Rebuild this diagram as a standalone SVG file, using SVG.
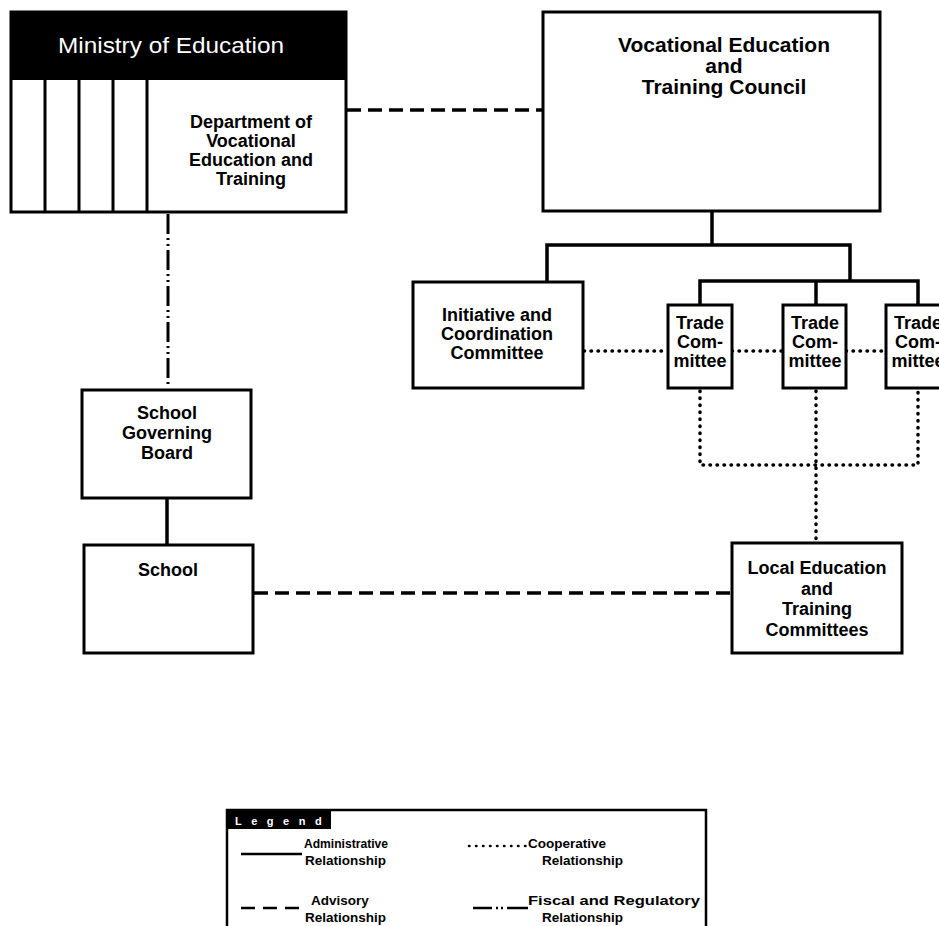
<svg xmlns="http://www.w3.org/2000/svg" width="939" height="926" viewBox="0 0 939 926">
  <style>
    .box { fill: #fff; stroke: #000; stroke-width: 3; }
    .t { font-family: "Liberation Sans", Arial, sans-serif; font-weight: bold; font-size: 18px; fill: #000; text-anchor: middle; }
    .big { font-size: 21px; }
    .lg { font-family: "Liberation Sans", Arial, sans-serif; font-weight: bold; font-size: 13.5px; fill: #000; }
    .admin { fill: none; stroke: #000; stroke-width: 3.5; stroke-linecap: square; }
    .adv { fill: none; stroke: #000; stroke-width: 3.5; stroke-dasharray: 14 7; }
    .coop { fill: none; stroke: #000; stroke-width: 3.5; stroke-dasharray: 0.5 6.5; stroke-linecap: round; }
    .fisc { fill: none; stroke: #000; stroke-width: 3; stroke-dasharray: 20 4 2 4 2 4; }
  </style>
  <rect width="939" height="926" fill="#fff"/>

  <!-- connectors -->
  <g id="connectors">
    <!-- administrative -->
    <path class="admin" d="M712 211 V245 M547 245 H850 M547 245 V282 M850 245 V281 M700 281 H918 M700 281 V305 M816 281 V305 M918 281 V305"/>
    <path class="admin" d="M167 498 V545"/>
    <!-- advisory -->
    <path class="adv" d="M347 110 H543"/>
    <path class="adv" d="M254 593 H732"/>
    <!-- cooperative -->
    <path class="coop" d="M584 351 H668 M732 351 H783 M846 351 H886"/>
    <path class="coop" d="M700 391 V465 H918 V391 M816 391 V541"/>
    <!-- fiscal and regulatory -->
    <path class="fisc" d="M168 214 V388"/>
  </g>

  <!-- Ministry of Education with its departments -->
  <g id="ministry">
    <rect class="box" x="11" y="12" width="335" height="200"/>
    <rect x="11" y="12" width="335" height="68" fill="#000"/>
    <path d="M45 80 V212 M79 80 V212 M113 80 V212 M147 80 V212" stroke="#000" stroke-width="3"/>
    <text x="171" y="53" font-family="Liberation Sans, Arial, sans-serif" font-size="22" fill="#fff" text-anchor="middle" textLength="226" lengthAdjust="spacingAndGlyphs">Ministry of Education</text>
  </g>
  <g id="department">
    <text class="t" x="251" y="128">Department of</text>
    <text class="t" x="251" y="147">Vocational</text>
    <text class="t" x="251" y="166">Education and</text>
    <text class="t" x="251" y="185">Training</text>
  </g>

  <g id="council">
    <rect class="box" x="543" y="12" width="337" height="199"/>
    <text class="t big" x="724" y="52">Vocational Education</text>
    <text class="t big" x="724" y="73">and</text>
    <text class="t big" x="724" y="94">Training Council</text>
  </g>

  <g id="initiative">
    <rect class="box" x="413" y="282" width="170" height="106"/>
    <text class="t" x="497" y="321">Initiative and</text>
    <text class="t" x="497" y="340">Coordination</text>
    <text class="t" x="497" y="359">Committee</text>
  </g>

  <g id="trade1">
    <rect class="box" x="668" y="305" width="64" height="83"/>
    <text class="t" x="700" y="329">Trade</text>
    <text class="t" x="700" y="348">Com-</text>
    <text class="t" x="700" y="367">mittee</text>
  </g>
  <g id="trade2">
    <rect class="box" x="783" y="305" width="63" height="83"/>
    <text class="t" x="815" y="329">Trade</text>
    <text class="t" x="815" y="348">Com-</text>
    <text class="t" x="815" y="367">mittee</text>
  </g>
  <g id="trade3">
    <rect class="box" x="886" y="305" width="64" height="83"/>
    <text class="t" x="918" y="329">Trade</text>
    <text class="t" x="918" y="348">Com-</text>
    <text class="t" x="918" y="367">mittee</text>
  </g>

  <g id="governing-board">
    <rect class="box" x="82" y="390" width="169" height="108"/>
    <text class="t" x="167" y="419">School</text>
    <text class="t" x="167" y="439">Governing</text>
    <text class="t" x="167" y="459">Board</text>
  </g>

  <g id="school">
    <rect class="box" x="84" y="545" width="169" height="108"/>
    <text class="t" x="168" y="576">School</text>
  </g>

  <g id="local-committees">
    <rect class="box" x="732" y="543" width="170" height="110"/>
    <text class="t" x="817" y="574">Local Education</text>
    <text class="t" x="817" y="595">and</text>
    <text class="t" x="817" y="615">Training</text>
    <text class="t" x="817" y="636">Committees</text>
  </g>

  <!-- legend -->
  <g id="legend">
    <path d="M227 930 V810 H706 V930" fill="none" stroke="#000" stroke-width="2.5"/>
    <rect x="227" y="810" width="104" height="19" fill="#000"/>
    <text x="235" y="825" font-family="Liberation Sans, Arial, sans-serif" font-weight="bold" font-size="11" fill="#fff" letter-spacing="9.5">Legend</text>

    <line x1="241" y1="854" x2="302" y2="854" stroke="#000" stroke-width="2.5"/>
    <text class="lg" x="304" y="848" textLength="84" lengthAdjust="spacingAndGlyphs">Administrative</text>
    <text class="lg" x="305" y="865">Relationship</text>

    <line x1="469" y1="846" x2="527" y2="846" stroke="#000" stroke-width="2.5" stroke-dasharray="0.5 6.5" stroke-linecap="round"/>
    <text class="lg" x="528" y="848">Cooperative</text>
    <text class="lg" x="542" y="865">Relationship</text>

    <line x1="241" y1="908" x2="302" y2="908" stroke="#000" stroke-width="2.5" stroke-dasharray="14 8"/>
    <text class="lg" x="311" y="905">Advisory</text>
    <text class="lg" x="305" y="922">Relationship</text>

    <path d="M473 908 H492 M496 908 H498 M501 908 H503 M507 908 H528" stroke="#000" stroke-width="2.5"/>
    <text class="lg" x="528" y="905" textLength="172" lengthAdjust="spacingAndGlyphs">Fiscal and Regulatory</text>
    <text class="lg" x="542" y="922">Relationship</text>
  </g>
</svg>
